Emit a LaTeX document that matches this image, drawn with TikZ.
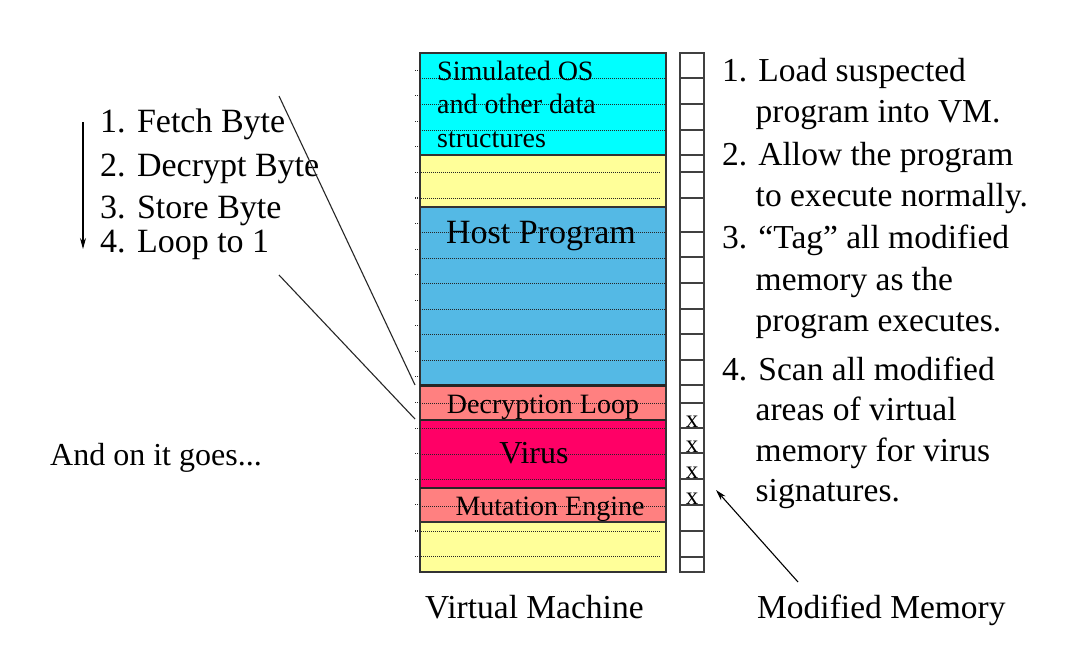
\documentclass[tikz,border=0pt]{standalone}
\usepackage{fontspec}
\setmainfont{Liberation Serif}
\usetikzlibrary{arrows.meta}
\definecolor{osCyan}{RGB}{0,255,255}
\definecolor{freeYellow}{RGB}{255,255,153}
\definecolor{hostBlue}{RGB}{84,185,229}
\definecolor{loopRed}{RGB}{255,128,128}
\definecolor{virusRed}{RGB}{255,0,102}
\newcommand{\steptext}[2]{\parbox[t]{330pt}{\hangindent=1em\hangafter=1 #1\\#2}}

\begin{document}
\begin{tikzpicture}[x=1pt,y=-1pt,
    block/.style={draw=black!80, line width=1.2pt},
    dotline/.style={black!85, line width=1pt, dash pattern=on 1pt off 1pt},
    cellline/.style={black!75, line width=1.2pt},
    textlabel/.style={inner sep=0pt, anchor=base west},
    arrowline/.style={line width=1.1pt, -{Stealth[length=11pt, width=6pt]}}]
  \useasboundingbox (0,0) rectangle (1082,662);
  % virtual machine
  \draw[block, fill=osCyan] (420,53) rectangle (666,155);
  \draw[block, fill=freeYellow] (420,155) rectangle (666,207);
  \draw[block, fill=hostBlue] (420,207) rectangle (666,385);
  \draw[block, fill=loopRed] (420,385) rectangle (666,420);
  \draw[block, fill=virusRed] (420,420) rectangle (666,488);
  \draw[block, fill=loopRed] (420,488) rectangle (666,522);
  \draw[block, fill=freeYellow] (420,522) rectangle (666,572);
  \foreach \y in {78,104,130,232,258,283,309,334,360,403,428,454,479,506}
    \draw[dotline] (420,\y) -- (666,\y);
  \foreach \y in {172,198,531,556}
    \draw[dotline] (415,\y) -- (661,\y);
  \foreach \k in {0,...,19}
    \draw[dotline] (415,{70+25.58*\k}) -- (420,{70+25.58*\k});
  \draw[line width=2.6pt, black!85] (420,385.5) -- (666,385.5);
  \draw[line width=2.6pt, black!85] (420,420) -- (666,420);
  \draw[line width=2.6pt, black!85] (420,488) -- (666,488);

  \node[textlabel, font=\fontsize{28}{33.7}\selectfont] (os) at (437,80)
    {\parbox[t]{200pt}{Simulated OS\\and other data\\structures}};
  \node[inner sep=0pt, anchor=base, font=\fontsize{34}{40}\selectfont] (host) at (541,243) {Host Program};
  \node[inner sep=0pt, anchor=base, font=\fontsize{28}{34}\selectfont] (decrypt) at (543,413) {Decryption Loop};
  \node[inner sep=0pt, anchor=base, font=\fontsize{32}{38}\selectfont] (virus) at (534,463) {Virus};
  \node[inner sep=0pt, anchor=base, font=\fontsize{28}{34}\selectfont] (mutate) at (550,515) {Mutation Engine};

  % modified memory
  \draw[cellline] (680,53) rectangle (704,572);
  \foreach \y in {78,104,130,155,172,198,232,257,283,309,334,360,385,403,428,453,479,505,531,557}
    \draw[cellline] (680,\y) -- (704,\y);
  \foreach \y [count=\i] in {427,452,478,504}
    \node[inner sep=0pt, anchor=base, font=\fontsize{25}{30}\selectfont] (mark\i) at (692,\y) {x};

  % decryption loop steps
  \node[textlabel, font=\fontsize{34}{40}\selectfont] (fetch) at (100,132.7) {1. Fetch Byte};
  \node[textlabel, font=\fontsize{34}{40}\selectfont] (decode) at (100,176) {2. Decrypt Byte};
  \node[textlabel, font=\fontsize{34}{40}\selectfont] (store) at (100,218.3) {3. Store Byte};
  \node[textlabel, font=\fontsize{34}{40}\selectfont] (again) at (100,252.7) {4. Loop to 1};
  \coordinate (looptop) at (83,122);
  \coordinate (loopend) at (83,249);
  \draw[arrowline] (looptop) -- (loopend);
  \coordinate (fanA) at (279,96);
  \coordinate (fanB) at (279,275);
  \coordinate (decTop) at (415,385);
  \coordinate (decBot) at (415,419);
  \draw[line width=1.1pt, black!85] (fanA) -- (decTop);
  \draw[line width=1.1pt, black!85] (fanB) -- (decBot);
  \node[textlabel, font=\fontsize{32}{38}\selectfont] (goes) at (50,465) {And on it goes...};

  % scanning steps
  \node[textlabel, font=\fontsize{33.5}{41}\selectfont] (load) at (722,81)
    {\steptext{1. Load suspected}{program into VM.}};
  \node[textlabel, font=\fontsize{33.5}{41}\selectfont] (allow) at (722,165)
    {\steptext{2. Allow the program}{to execute normally.}};
  \node[textlabel, font=\fontsize{33.5}{41.7}\selectfont] (tag) at (722,248.3)
    {\steptext{3. “Tag” all modified}{memory as the\\program executes.}};
  \node[textlabel, font=\fontsize{33.5}{40.6}\selectfont] (scan) at (722,380)
    {\steptext{4. Scan all modified}{areas of virtual\\memory for virus\\signatures.}};

  \node[textlabel, font=\fontsize{33.5}{40}\selectfont] (vm) at (425,618) {Virtual Machine};
  \node[textlabel, font=\fontsize{33.5}{40}\selectfont] (modmem) at (757,618) {Modified Memory};
  \coordinate (memtail) at (798,582);
  \coordinate (memhead) at (716,490);
  \draw[arrowline] (memtail) -- (memhead);
\end{tikzpicture}
\end{document}
